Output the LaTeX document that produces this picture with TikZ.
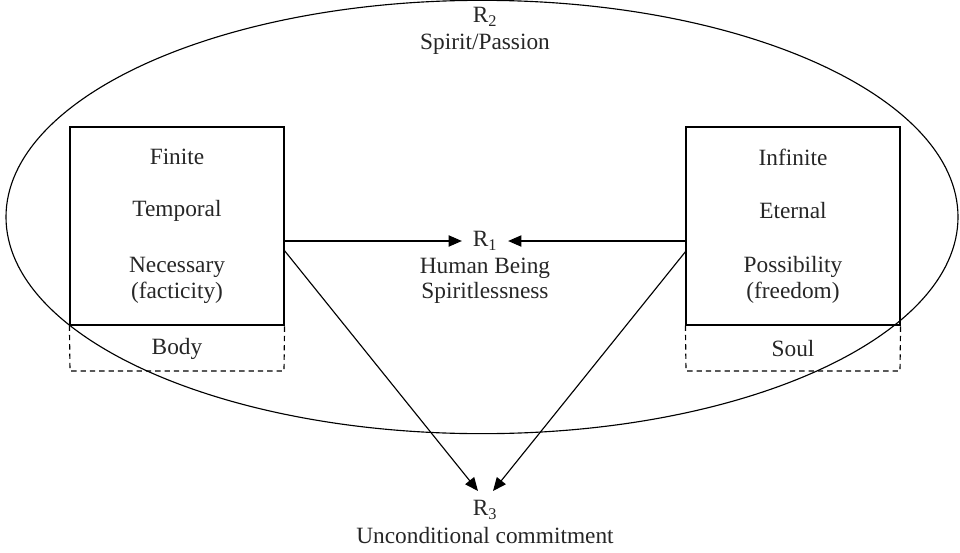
\documentclass[tikz,border=0pt]{standalone}
\usepackage{fontspec}
\setmainfont{Liberation Serif}
\usetikzlibrary{arrows.meta,shapes.geometric}
\tikzset{
  lbl/.style={font=\fontsize{17.5}{20}\selectfont, text=black!85, inner sep=1pt},
  panel/.style={draw, line width=0.85pt, minimum width=160.5pt, minimum height=148.5pt, inner sep=0pt},
  dashbox/.style={dashed, line width=0.85pt, dash pattern=on 4pt off 3pt},
  arr/.style={line width=0.85pt, -{Triangle[length=10pt,width=8.5pt]}}
}
\begin{document}
\begin{tikzpicture}[x=0.75pt,y=-0.75pt]
\useasboundingbox (0,0) rectangle (960,553);
\node[draw, ellipse, line width=0.85pt, minimum width=714pt, minimum height=325pt, inner sep=0pt] (ell) at (482,217) {};
% boxes
\node[panel] (lbox) at (177,226) {};
\node[panel] (rbox) at (793,226) {};
\coordinate (lbl) at (70,371);
\coordinate (lbr) at (284,371);
\coordinate (rbl) at (686,371);
\coordinate (rbr) at (900,371);
\draw[dashbox] (lbox.south west) -- (lbl) -- (lbr) -- (lbox.south east);
\draw[dashbox] (rbox.south west) -- (rbl) -- (rbr) -- (rbox.south east);
% texts
\node[lbl] (r2) at (485,17) {R\textsubscript{2}};
\node[lbl] (sp) at (485,44) {Spirit/Passion};
\node[lbl] (fin) at (177,157) {Finite};
\node[lbl] (tem) at (177,211) {Temporal};
\node[lbl] (nec) at (177,267) {Necessary};
\node[lbl] (fac) at (177,293) {(facticity)};
\node[lbl] (body) at (177,349) {Body};
\node[lbl] (inf) at (793,157) {Infinite};
\node[lbl] (ete) at (793,211) {Eternal};
\node[lbl] (pos) at (793,267) {Possibility};
\node[lbl] (fre) at (793,293) {(freedom)};
\node[lbl] (soul) at (793,349) {Soul};
\node[lbl, inner sep=8pt] (r1) at (485,241) {R\textsubscript{1}};
\node[lbl] (hb) at (485,268) {Human Being};
\node[lbl] (spl) at (485,293) {Spiritlessness};
\node[lbl] (r3) at (485,510) {R\textsubscript{3}};
\node[lbl] (uc) at (485,536) {Unconditional commitment};
% arrows
\draw[arr] (lbox.east |- r1) -- (r1.west);
\draw[arr] (rbox.west |- r1) -- (r1.east);
\coordinate (ls) at (284,250);
\coordinate (rs) at (686,251);
\coordinate (le) at (478,491);
\coordinate (re) at (493,491);
\draw[arr] (ls) -- (le);
\draw[arr] (rs) -- (re);
\end{tikzpicture}
\end{document}
